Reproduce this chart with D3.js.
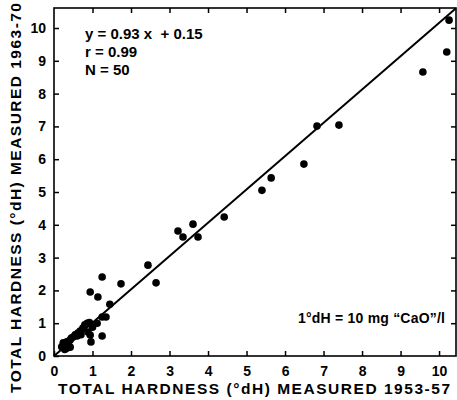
<!DOCTYPE html>
<html>
<head>
<meta charset="utf-8">
<script src="https://cdn.jsdelivr.net/npm/d3@7"></script>
<style>
  body { margin: 0; background: #fff; }
  text { font-family: "Liberation Sans", Arial, sans-serif; font-weight: bold; fill: #000; }
</style>
</head>
<body>
<div id="chart"></div>
<script>
// valeurs (°dH)
const measured1953 = [10.26, 10.2, 9.58, 6.83, 7.4, 6.49, 5.64, 5.4, 4.42, 3.22,
  3.35, 3.61, 3.74, 2.65, 2.44, 1.74, 1.25, 0.94, 1.14, 1.45,
  1.25, 1.35, 1.12, 1.25, 0.96, 0.94,
  0.86, 0.92, 0.8, 1.0, 0.88, 0.75, 0.68, 0.62, 0.6, 0.55,
  0.5, 0.45, 0.42, 0.38, 0.33, 0.3, 0.24, 0.25, 0.2, 0.33,
  0.42, 0.28, 0.36, 0.7];
const measured1963 = [10.24, 9.27, 8.66, 7.01, 7.04, 5.85, 5.43, 5.05, 4.24, 3.81,
  3.63, 4.02, 3.63, 2.23, 2.77, 2.2, 2.41, 1.95, 1.8, 1.58,
  1.19, 1.19, 1.0, 0.61, 0.43, 0.64,
  1.0, 1.02, 0.95, 0.88, 0.73, 0.85, 0.76, 0.7, 0.61, 0.65,
  0.58, 0.55, 0.49, 0.45, 0.43, 0.38, 0.4, 0.3, 0.28, 0.24,
  0.27, 0.2, 0.33, 0.65];
// droite tracée sur la figure (extrémités)
const fitX = [0, 10.44];
const fitY = [0, 10.6];
const ticks = [0, 1, 2, 3, 4, 5, 6, 7, 8, 9, 10];
const statLines = ["y = 0.93 x  + 0.15", "r = 0.99", "N = 50"];
const unitNote = "1°dH = 10 mg \u201CCaO\u201D/l";
const xTitle = "TOTAL HARDNESS (°dH) MEASURED 1953-57";
const yTitle = "TOTAL HARDNESS (°dH) MEASURED 1963-70";

const width = 457, height = 400;
const margin = { left: 54, right: 1, top: 8, bottom: 44 };

const svg = d3.select("#chart").append("svg")
  .attr("width", width)
  .attr("height", height);

const x = d3.scaleLinear().domain([0, 10.44]).range([margin.left, width - margin.right]);
const y = d3.scaleLinear().domain([0, 10.61]).range([height - margin.bottom, margin.top]);

// cadre
svg.append("rect")
  .attr("x", x(0)).attr("y", y(10.61))
  .attr("width", x(10.44) - x(0)).attr("height", y(0) - y(10.61))
  .attr("fill", "none").attr("stroke", "#000").attr("stroke-width", 1.6);

// axes avec graduations vers l'intérieur
const axes = [
  d3.axisBottom(x).tickValues(ticks).tickSize(-5).tickPadding(10),
  d3.axisLeft(y).tickValues(ticks).tickSize(-5).tickPadding(8),
  d3.axisTop(x).tickValues(ticks.slice(1)).tickSize(-5).tickFormat(""),
  d3.axisRight(y).tickValues(ticks.slice(1)).tickSize(-5).tickFormat("")
];
const pos = [
  `translate(0,${y(0)})`, `translate(${x(0)},0)`,
  `translate(0,${y(10.61)})`, `translate(${x(10.44)},0)`
];
axes.forEach((a, i) => {
  const g = svg.append("g").attr("transform", pos[i]).call(a);
  g.select(".domain").remove();
  g.selectAll("line").attr("stroke", "#000").attr("stroke-width", 1.5);
  g.selectAll("text").style("font-size", "14px").style("font-family", "Liberation Sans, Arial, sans-serif")
    .style("font-weight", "bold").attr("fill", "#000");
});

// droite de régression
svg.append("line")
  .attr("x1", x(fitX[0])).attr("y1", y(fitY[0]))
  .attr("x2", x(fitX[1])).attr("y2", y(fitY[1]))
  .attr("stroke", "#000").attr("stroke-width", 2);

// points
svg.append("g").selectAll("circle")
  .data(measured1953.map((d, i) => [d, measured1963[i]]))
  .enter()
  .append("circle")
  .attr("cx", d => x(d[0]))
  .attr("cy", d => y(d[1]))
  .attr("r", 3.8)
  .attr("fill", "#000");

// statistiques
svg.append("g").selectAll("text")
  .data(statLines)
  .enter()
  .append("text")
  .attr("x", 85)
  .attr("y", (d, i) => 39 + i * 18)
  .style("font-size", "15px")
  .attr("xml:space", "preserve")
  .style("white-space", "pre")
  .text(d => d);

svg.append("text")
  .attr("x", 298).attr("y", 323)
  .attr("textLength", 147)
  .attr("lengthAdjust", "spacing")
  .style("font-size", "14px")
  .text(unitNote);

// titres des axes
svg.append("text")
  .attr("x", 58).attr("y", 394)
  .attr("textLength", 392)
  .attr("lengthAdjust", "spacing")
  .style("font-size", "15.5px")
  .text(xTitle);

svg.append("text")
  .attr("transform", "translate(21,393) rotate(-90)")
  .attr("textLength", 390)
  .attr("lengthAdjust", "spacing")
  .style("font-size", "15.5px")
  .text(yTitle);
</script>
</body>
</html>
